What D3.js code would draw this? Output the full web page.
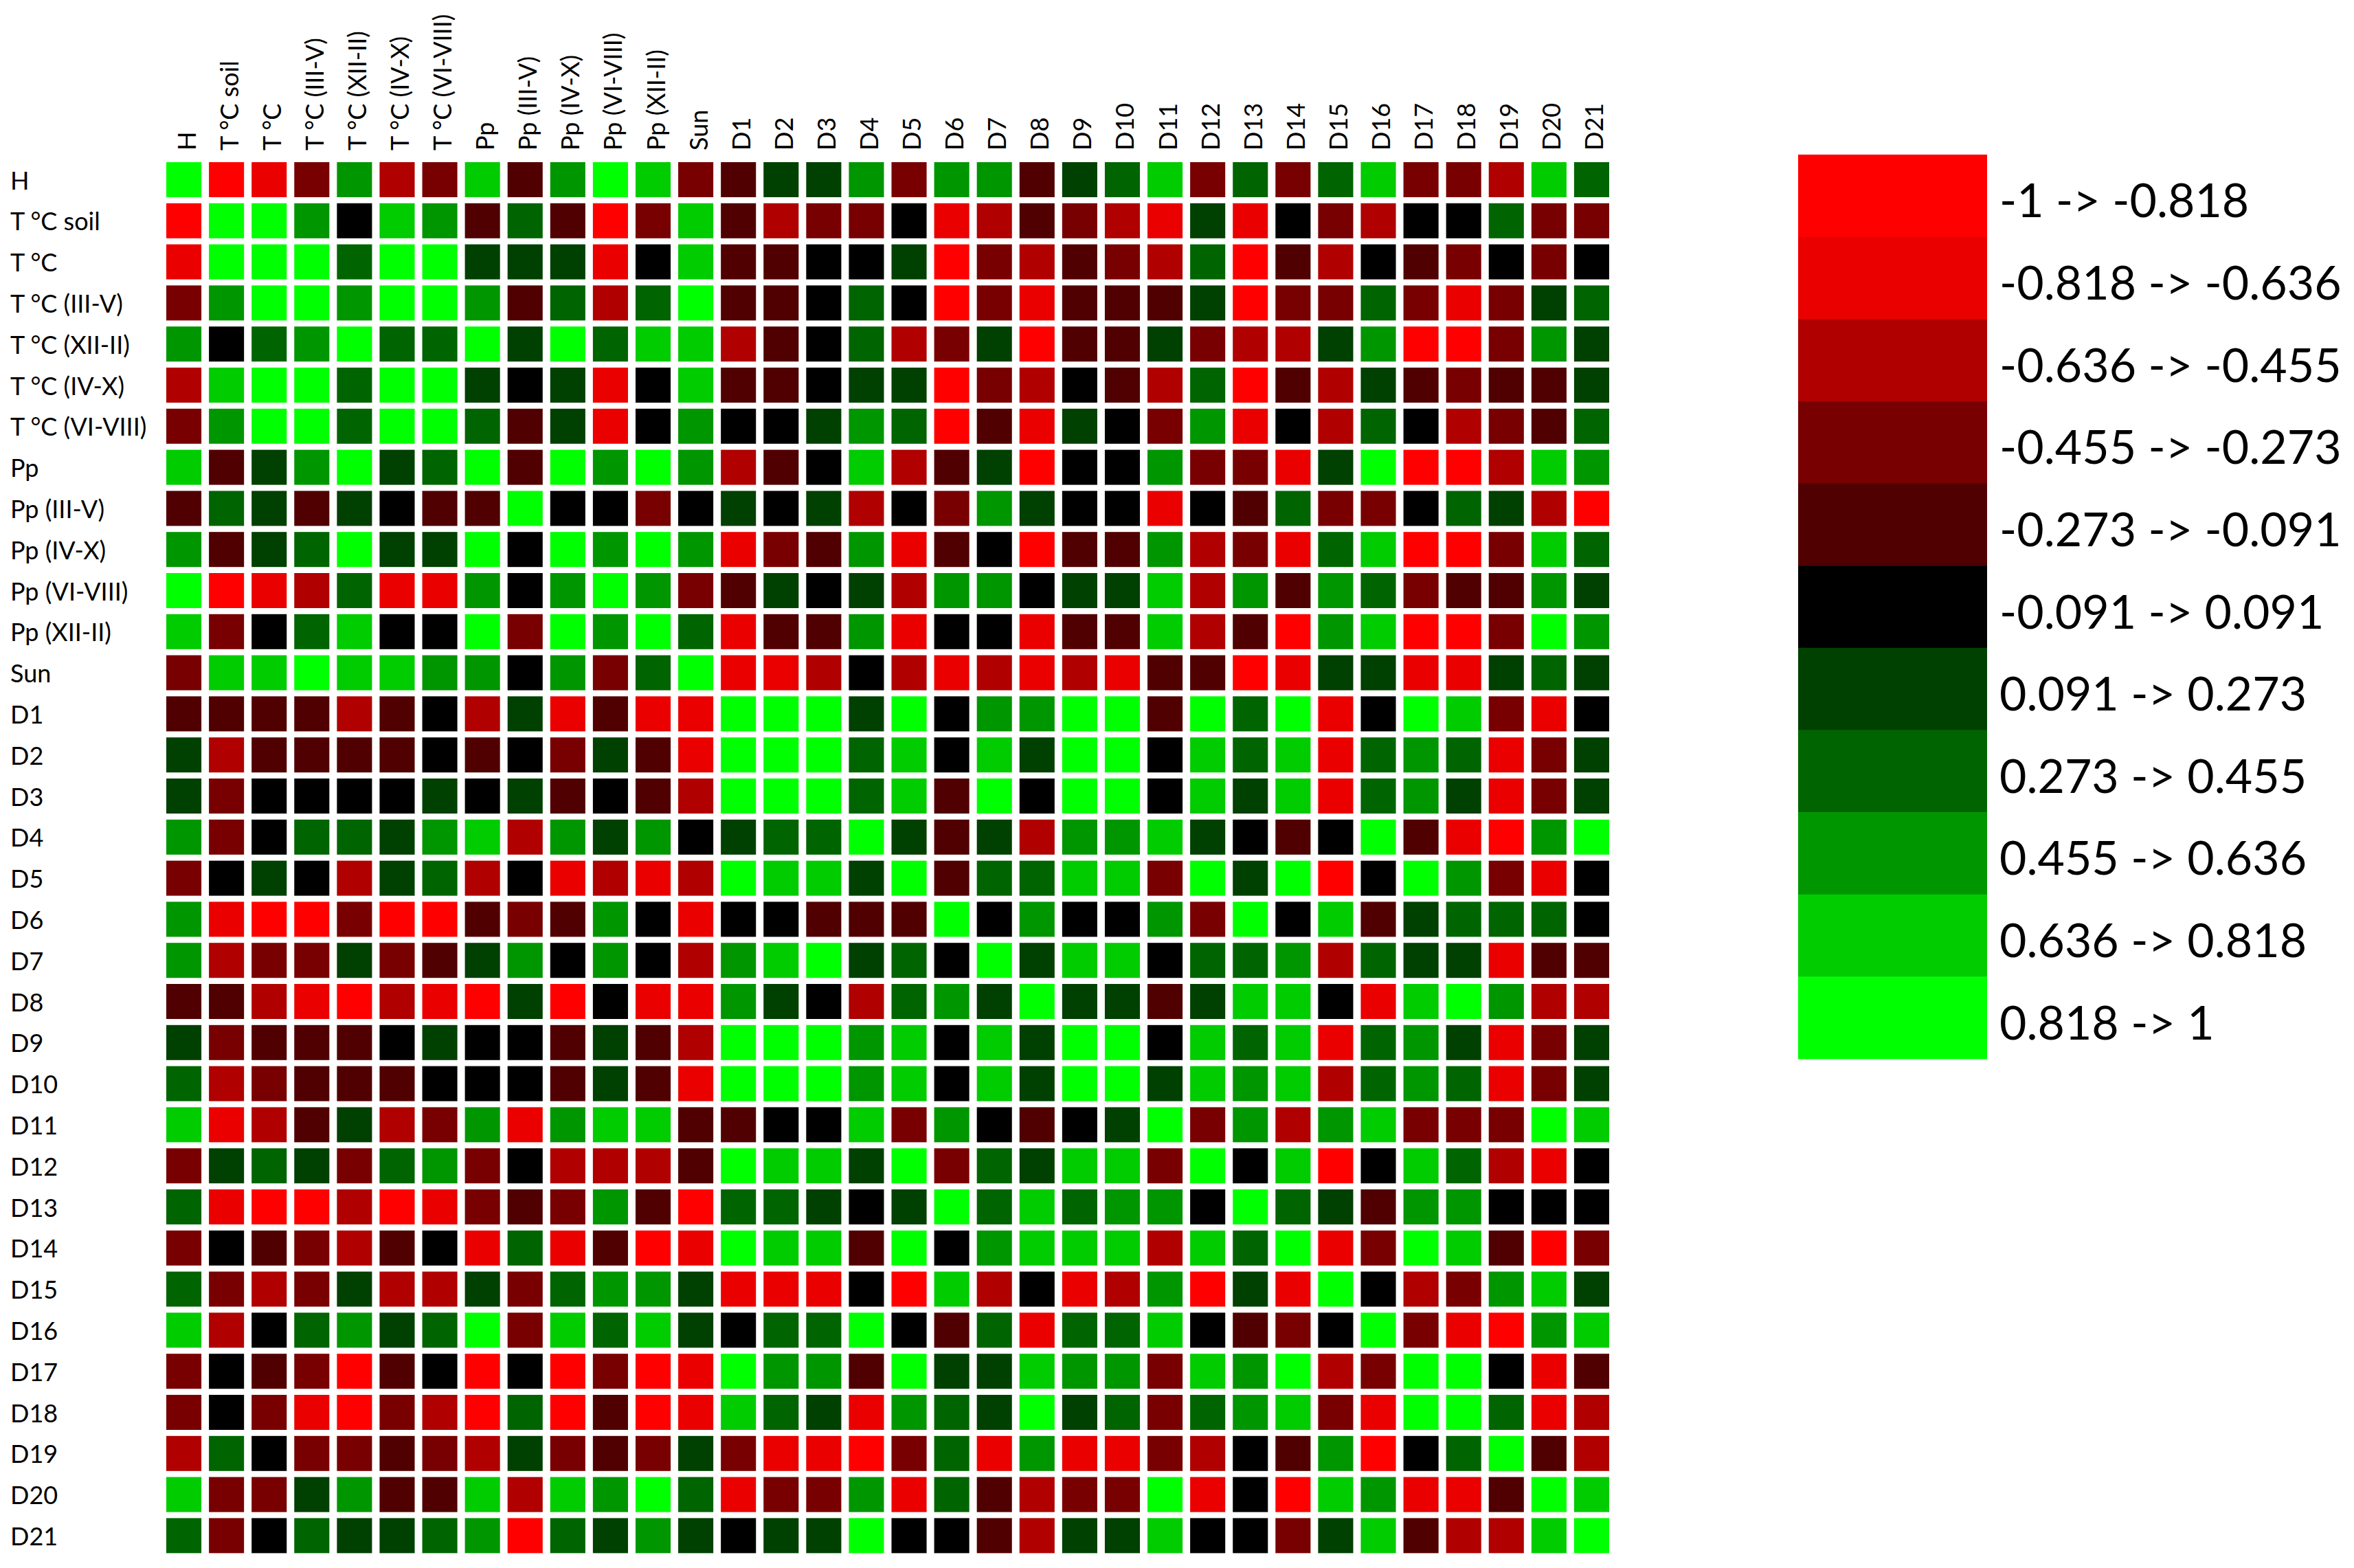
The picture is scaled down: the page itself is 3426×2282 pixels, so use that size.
<!DOCTYPE html>
<html><head><meta charset="utf-8">
<script src="https://cdn.jsdelivr.net/npm/d3@7"></script>
<style>body{margin:0;background:#fff}svg{display:block}</style>
</head><body>
<svg id="chart" width="3426" height="2282"></svg>
<script>
const variables = ["H","T °C soil","T °C","T °C (III-V)","T °C (XII-II)","T °C (IV-X)","T °C (VI-VIII)",
  "Pp","Pp (III-V)","Pp (IV-X)","Pp (VI-VIII)","Pp (XII-II)","Sun",
  "D1","D2","D3","D4","D5","D6","D7","D8","D9","D10","D11","D12","D13","D14","D15","D16","D17","D18","D19","D20","D21"];

const thresholds = [-0.818,-0.636,-0.455,-0.273,-0.091,0.091,0.273,0.455,0.636,0.818];
const binColors = ["#FF0000","#EB0000","#B00000","#780000","#500000","#000000","#004000","#006400","#009600","#00CC00","#00FF00"];
const legendLabels = ["-1 -> -0.818","-0.818 -> -0.636","-0.636 -> -0.455","-0.455 -> -0.273","-0.273 -> -0.091",
  "-0.091 -> 0.091","0.091 -> 0.273","0.273 -> 0.455","0.455 -> 0.636","0.636 -> 0.818","0.818 -> 1"];

// correlation matrix (rows and columns in the order of `variables`)
const corr = [
[.91,-.91,-.73,-.36,.55,-.55,-.36,.73,-.18,.55,.91,.73,-.36,-.18,.18,.18,.55,-.36,.55,.55,-.18,.18,.36,.73,-.36,.36,-.36,.36,.73,-.36,-.36,-.55,.73,.36],
[-.91,.91,.91,.55,0,.73,.55,-.18,.36,-.18,-.91,-.36,.73,-.18,-.55,-.36,-.36,0,-.73,-.55,-.18,-.36,-.55,-.73,.18,-.73,0,-.36,-.55,0,0,.36,-.36,-.36],
[-.73,.91,.91,.91,.36,.91,.91,.18,.18,.18,-.73,0,.73,-.18,-.18,0,0,.18,-.91,-.36,-.55,-.18,-.36,-.55,.36,-.91,-.18,-.55,0,-.18,-.36,0,-.36,0],
[-.36,.55,.91,.91,.55,.91,.91,.55,-.18,.36,-.55,.36,.91,-.18,-.18,0,.36,0,-.91,-.36,-.73,-.18,-.18,-.18,.18,-.91,-.36,-.36,.36,-.36,-.73,-.36,.18,.36],
[.55,0,.36,.55,.91,.36,.36,.91,.18,.91,.36,.73,.73,-.55,-.18,0,.36,-.55,-.36,.18,-.91,-.18,-.18,.18,-.36,-.55,-.55,.18,.55,-.91,-.91,-.36,.55,.18],
[-.55,.73,.91,.91,.36,.91,.91,.18,0,.18,-.73,0,.73,-.18,-.18,0,.18,.18,-.91,-.36,-.55,0,-.18,-.55,.36,-.91,-.18,-.55,.18,-.18,-.36,-.18,-.18,.18],
[-.36,.55,.91,.91,.36,.91,.91,.36,-.18,.18,-.73,0,.55,0,0,.18,.55,.36,-.91,-.18,-.73,.18,0,-.36,.55,-.73,0,-.55,.36,0,-.55,-.36,-.18,.36],
[.73,-.18,.18,.55,.91,.18,.36,.91,-.18,.91,.55,.91,.55,-.55,-.18,0,.73,-.55,-.18,.18,-.91,0,0,.55,-.36,-.36,-.73,.18,.91,-.91,-.91,-.55,.73,.55],
[-.18,.36,.18,-.18,.18,0,-.18,-.18,.91,0,0,-.36,0,.18,0,.18,-.55,0,-.36,.55,.18,0,0,-.73,0,-.18,.36,-.36,-.36,0,.36,.18,-.55,-.91],
[.55,-.18,.18,.36,.91,.18,.18,.91,0,.91,.55,.91,.55,-.73,-.36,-.18,.55,-.73,-.18,0,-.91,-.18,-.18,.55,-.55,-.36,-.73,.36,.73,-.91,-.91,-.36,.73,.36],
[.91,-.91,-.73,-.55,.36,-.73,-.73,.55,0,.55,.91,.55,-.36,-.18,.18,0,.18,-.55,.55,.55,0,.18,.18,.73,-.55,.55,-.18,.55,.36,-.36,-.18,-.18,.55,.18],
[.73,-.36,0,.36,.73,0,0,.91,-.36,.91,.55,.91,.36,-.73,-.18,-.18,.55,-.73,0,0,-.73,-.18,-.18,.73,-.55,-.18,-.91,.55,.73,-.91,-.91,-.36,.91,.55],
[-.36,.73,.73,.91,.73,.73,.55,.55,0,.55,-.36,.36,.91,-.73,-.73,-.55,0,-.55,-.73,-.55,-.73,-.55,-.73,-.18,-.18,-.91,-.73,.18,.18,-.73,-.73,.18,.36,.18],
[-.18,-.18,-.18,-.18,-.55,-.18,0,-.55,.18,-.73,-.18,-.73,-.73,.91,.91,.91,.18,.91,0,.55,.55,.91,.91,-.18,.91,.36,.91,-.73,0,.91,.73,-.36,-.73,0],
[.18,-.55,-.18,-.18,-.18,-.18,0,-.18,0,-.36,.18,-.18,-.73,.91,.91,.91,.36,.73,0,.73,.18,.91,.91,0,.73,.36,.73,-.73,.36,.55,.36,-.73,-.36,.18],
[.18,-.36,0,0,0,0,.18,0,.18,-.18,0,-.18,-.55,.91,.91,.91,.36,.73,-.18,.91,0,.91,.91,0,.73,.18,.73,-.73,.36,.55,.18,-.73,-.36,.18],
[.55,-.36,0,.36,.36,.18,.55,.73,-.55,.55,.18,.55,0,.18,.36,.36,.91,.18,-.18,.18,-.55,.55,.55,.73,.18,0,-.18,0,.91,-.18,-.73,-.91,.55,.91],
[-.36,0,.18,0,-.55,.18,.36,-.55,0,-.73,-.55,-.73,-.55,.91,.73,.73,.18,.91,-.18,.36,.36,.73,.73,-.36,.91,.18,.91,-.91,0,.91,.55,-.36,-.73,0],
[.55,-.73,-.91,-.91,-.36,-.91,-.91,-.18,-.36,-.18,.55,0,-.73,0,0,-.18,-.18,-.18,.91,0,.55,0,0,.55,-.36,.91,0,.73,-.18,.18,.36,.36,.36,0],
[.55,-.55,-.36,-.36,.18,-.36,-.18,.18,.55,0,.55,0,-.55,.55,.73,.91,.18,.36,0,.91,.18,.73,.73,0,.36,.36,.55,-.55,.36,.18,.18,-.73,-.18,-.18],
[-.18,-.18,-.55,-.73,-.91,-.55,-.73,-.91,.18,-.91,0,-.73,-.73,.55,.18,0,-.55,.36,.55,.18,.91,.18,.18,-.18,.18,.73,.73,0,-.73,.73,.91,.55,-.55,-.55],
[.18,-.36,-.18,-.18,-.18,0,.18,0,0,-.18,.18,-.18,-.55,.91,.91,.91,.55,.73,0,.73,.18,.91,.91,0,.73,.36,.73,-.73,.36,.55,.18,-.73,-.36,.18],
[.36,-.55,-.36,-.18,-.18,-.18,0,0,0,-.18,.18,-.18,-.73,.91,.91,.91,.55,.73,0,.73,.18,.91,.91,.18,.73,.55,.73,-.55,.36,.55,.36,-.73,-.36,.18],
[.73,-.73,-.55,-.18,.18,-.55,-.36,.55,-.73,.55,.73,.73,-.18,-.18,0,0,.73,-.36,.55,0,-.18,0,.18,.91,-.36,.55,-.55,.55,.73,-.36,-.36,-.36,.91,.73],
[-.36,.18,.36,.18,-.36,.36,.55,-.36,0,-.55,-.55,-.55,-.18,.91,.73,.73,.18,.91,-.36,.36,.18,.73,.73,-.36,.91,0,.73,-.91,0,.73,.36,-.55,-.73,0],
[.36,-.73,-.91,-.91,-.55,-.91,-.73,-.36,-.18,-.36,.55,-.18,-.91,.36,.36,.18,0,.18,.91,.36,.73,.36,.55,.55,0,.91,.36,.18,-.18,.55,.55,0,0,0],
[-.36,0,-.18,-.36,-.55,-.18,0,-.73,.36,-.73,-.18,-.91,-.73,.91,.73,.73,-.18,.91,0,.55,.73,.73,.73,-.55,.73,.36,.91,-.73,-.36,.91,.73,-.18,-.91,-.36],
[.36,-.36,-.55,-.36,.18,-.55,-.55,.18,-.36,.36,.55,.55,.18,-.73,-.73,-.73,0,-.91,.73,-.55,0,-.73,-.55,.55,-.91,.18,-.73,.91,0,-.55,-.36,.55,.73,.18],
[.73,-.55,0,.36,.55,.18,.36,.91,-.36,.73,.36,.73,.18,0,.36,.36,.91,0,-.18,.36,-.73,.36,.36,.73,0,-.18,-.36,0,.91,-.36,-.73,-.91,.55,.73],
[-.36,0,-.18,-.36,-.91,-.18,0,-.91,0,-.91,-.36,-.91,-.73,.91,.55,.55,-.18,.91,.18,.18,.73,.55,.55,-.36,.73,.55,.91,-.55,-.36,.91,.91,0,-.73,-.18],
[-.36,0,-.36,-.73,-.91,-.36,-.55,-.91,.36,-.91,-.18,-.91,-.73,.73,.36,.18,-.73,.55,.36,.18,.91,.18,.36,-.36,.36,.55,.73,-.36,-.73,.91,.91,.36,-.73,-.55],
[-.55,.36,0,-.36,-.36,-.18,-.36,-.55,.18,-.36,-.18,-.36,.18,-.36,-.73,-.73,-.91,-.36,.36,-.73,.55,-.73,-.73,-.36,-.55,0,-.18,.55,-.91,0,.36,.91,-.18,-.55],
[.73,-.36,-.36,.18,.55,-.18,-.18,.73,-.55,.73,.55,.91,.36,-.73,-.36,-.36,.55,-.73,.36,-.18,-.55,-.36,-.36,.91,-.73,0,-.91,.73,.55,-.73,-.73,-.18,.91,.73],
[.36,-.36,0,.36,.18,.18,.36,.55,-.91,.36,.18,.55,.18,0,.18,.18,.91,0,0,-.18,-.55,.18,.18,.73,0,0,-.36,.18,.73,-.18,-.55,-.55,.73,.91]
];

const svg = d3.select("#chart");
const FONT = "Lato, 'Open Sans', sans-serif";

const x = d3.scaleBand().domain(variables).range([242, 2342]).paddingInner(11/62.09).paddingOuter(0);
const y = d3.scaleBand().domain(variables).range([236, 2260.4]).paddingInner(8.8/59.8).paddingOuter(0);
const color = d3.scaleThreshold().domain(thresholds).range(binColors);

const cells = [];
corr.forEach((row, i) => row.forEach((v, j) => cells.push({r: variables[i], c: variables[j], v})));

svg.append("g").selectAll("rect").data(cells).join("rect")
  .attr("x", d => x(d.c)).attr("y", d => y(d.r))
  .attr("width", x.bandwidth()).attr("height", y.bandwidth())
  .attr("fill", d => color(d.v));

// row labels
svg.append("g").selectAll("text").data(variables).join("text")
  .attr("x", 15).attr("y", d => y(d) + y.bandwidth()/2)
  .attr("dominant-baseline", "central")
  .style("font-family", FONT).style("font-size", "36px").attr("fill", "#000")
  .text(d => d);

// column labels
svg.append("g").selectAll("text").data(variables).join("text")
  .attr("transform", d => `translate(${x(d) + x.bandwidth()/2 + 3},219) rotate(-90)`)
  .attr("dominant-baseline", "central")
  .style("font-family", FONT).style("font-size", "36px").attr("fill", "#000")
  .text(d => d);

// legend
const ly = d3.scaleBand().domain(legendLabels).range([225, 1541]);
const lg = svg.append("g");
lg.selectAll("rect").data(legendLabels).join("rect")
  .attr("x", 2617).attr("y", d => ly(d)).attr("width", 275).attr("height", ly.bandwidth() + 0.5)
  .attr("fill", (d, i) => color.range()[i]);
lg.selectAll("text").data(legendLabels).join("text")
  .attr("x", 2910).attr("y", d => ly(d) + ly.bandwidth()/2 + 5)
  .attr("dominant-baseline", "central")
  .style("font-family", FONT).style("font-size", "68px").attr("fill", "#000")
  .text(d => d);
</script>
</body></html>
